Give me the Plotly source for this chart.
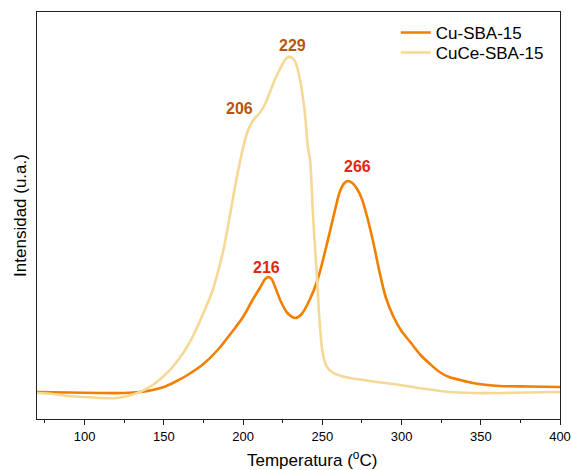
import plotly.graph_objects as go

# Temperatures (°C) and intensities (a.u.)
cu_temp = [70, 90, 110, 125, 135, 143, 150, 157, 165, 175, 184, 194, 200, 206, 211, 214, 216, 218, 221,
           224, 228, 233, 237, 242, 247, 252, 257, 261, 264, 266, 269, 272, 275, 278, 282, 286, 290, 295,
           300, 306, 312, 318, 324, 330, 337, 345, 362, 380, 400]
cu_int = [27, 26.5, 26, 26, 27, 29, 32, 37, 44, 55, 69, 89, 102, 119, 132, 140, 142, 140, 129,
          117, 106, 101, 105, 119, 139, 169, 202, 227, 236, 238, 236, 230, 220, 204, 178, 148, 122, 102,
          88, 76, 64, 55, 47, 42, 39, 36, 33, 32.5, 32]

cuce_temp = [70, 80, 90, 100, 110, 120, 127, 135, 143, 150, 155, 160, 165, 170, 175, 180, 184, 187.6, 191,
             194, 197, 200, 203, 206.5, 210, 213, 217, 220, 223, 226, 228.5, 231, 233, 236, 239, 241,
             242.3, 244, 245.5, 246.8, 248, 249, 250, 251.8, 254, 257, 262, 267.5, 280, 299, 315, 330,
             345, 362, 380, 400]
cuce_int = [26, 25, 23, 22, 21, 21, 23, 27, 34, 43, 51, 61, 73, 88, 106, 125, 146, 169, 197,
            224, 249, 271, 288, 299, 305, 312, 327, 339, 349, 358, 362, 361, 357, 339, 306, 271,
            259, 209, 169, 139, 104, 84, 69, 56, 50, 46, 43, 41, 38, 34, 30, 27,
            26, 26, 26.5, 27]

ann_x = [231.5, 198, 214.7, 272.5]
ann_text = ["229", "206", "216", "266"]
ann_y = [374, 311, 152, 253]
ann_col = ["#B5570F", "#B5570F", "#E3260F", "#E3260F"]

FONT = "Arial, Liberation Sans, sans-serif"

fig = go.Figure()
fig.add_trace(go.Scatter(x=cu_temp, y=cu_int, mode="lines", name="Cu-SBA-15", legend="legend",
                         line=dict(color="#F27F00", width=2.6, shape="spline", smoothing=0.8)))
fig.add_trace(go.Scatter(x=cuce_temp, y=cuce_int, mode="lines", name="CuCe-SBA-15", legend="legend2",
                         line=dict(color="#F6D895", width=2.6, shape="spline", smoothing=0.8)))

for x, y, t, c in zip(ann_x, ann_y, ann_text, ann_col):
    fig.add_annotation(x=x, y=y, text="<b>%s</b>" % t, showarrow=False,
                       font=dict(family=FONT, size=16, color=c))

# x-axis title (offset to the right as in the reference)
fig.add_annotation(xref="paper", yref="paper", x=0.526, y=-0.098, xanchor="center", yanchor="middle",
                   text="Temperatura (<sup>o</sup>C)", showarrow=False,
                   font=dict(family=FONT, size=17, color="black"))

leg_common = dict(xanchor="left", yanchor="top", bgcolor="rgba(0,0,0,0)", font=dict(size=17))

fig.update_layout(
    width=571, height=470,
    margin=dict(l=37, r=11, t=12, b=51, autoexpand=False),
    plot_bgcolor="white", paper_bgcolor="white",
    font=dict(family=FONT, color="black"),
    showlegend=True,
    legend=dict(x=0.686, y=0.9926, **leg_common),
    legend2=dict(x=0.686, y=0.9435, **leg_common),
    xaxis=dict(range=[70, 400], tickmode="array", tickvals=[100, 150, 200, 250, 300, 350, 400],
               ticks="outside", ticklen=5, tickwidth=1.3, tickcolor="#222",
               showline=True, linewidth=1.3, linecolor="#222", mirror=True,
               showgrid=False, zeroline=False, tickfont=dict(size=13),
               minor=dict(tickvals=[75, 125, 175, 225, 275, 325, 375], ticks="outside",
                          ticklen=3, tickwidth=1.3, tickcolor="#222")),
    yaxis=dict(range=[0, 407], showticklabels=False, ticks="", showgrid=False, zeroline=False,
               showline=True, linewidth=1.3, linecolor="#222", mirror=True,
               title=dict(text="Intensidad (u.a.)", font=dict(size=17), standoff=4)),
)

fig.write_html("out.html")
